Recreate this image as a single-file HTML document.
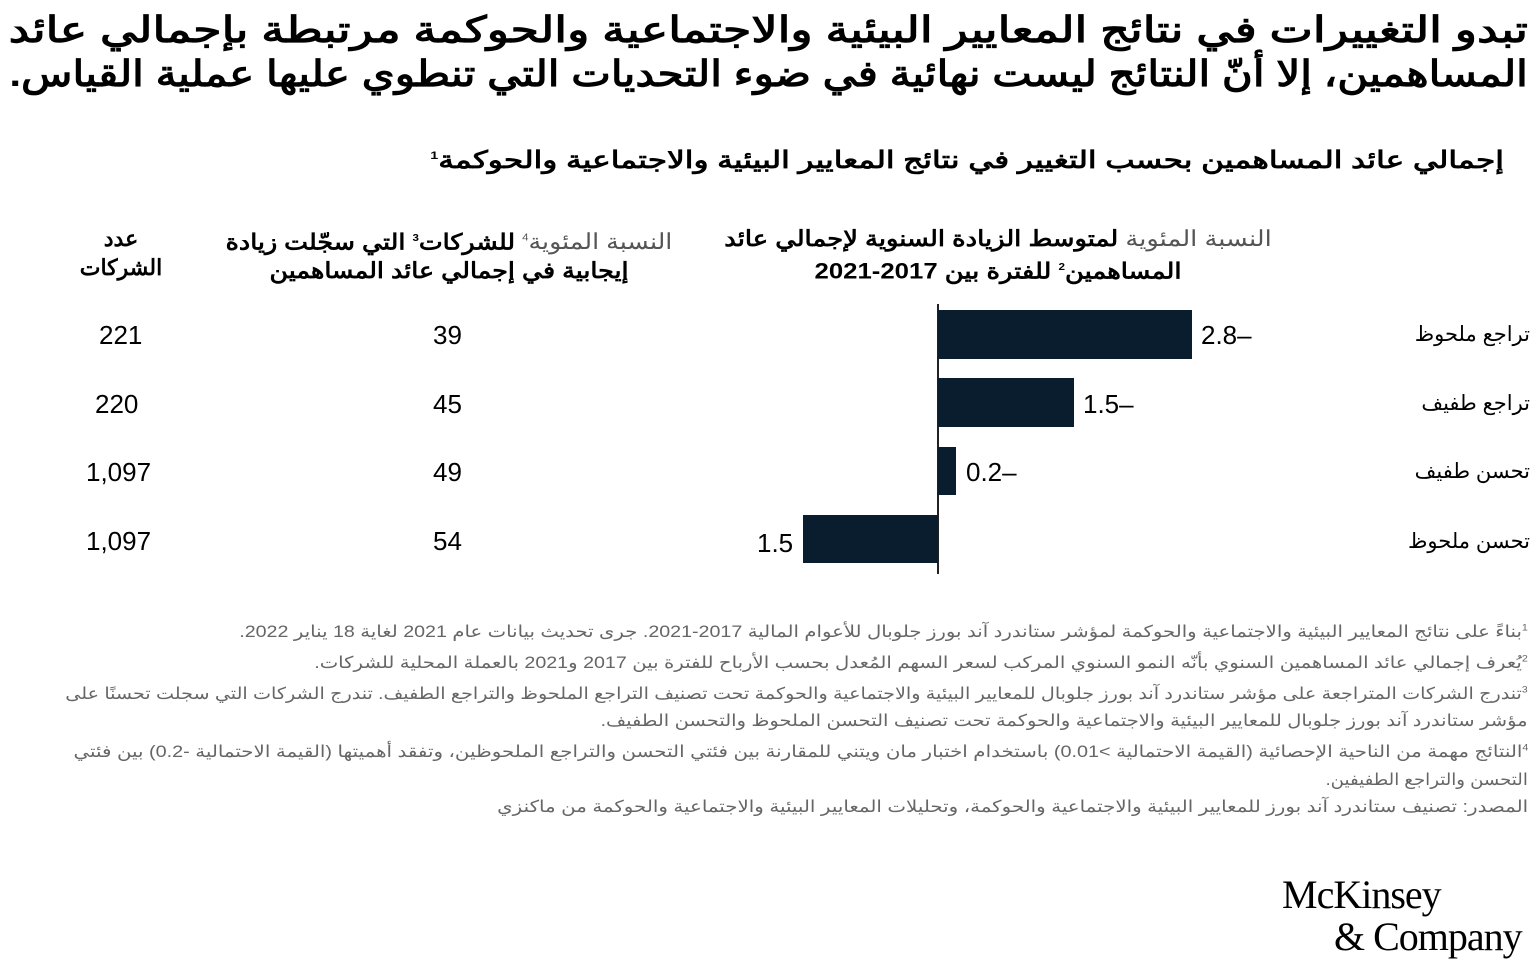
<!DOCTYPE html>
<html><head><meta charset="utf-8"><style>
body{margin:0;width:1536px;height:971px;background:#fff;position:relative;overflow:hidden;font-family:"Liberation Sans","Noto Sans CJK SC",sans-serif;color:#000}
.a{position:absolute;white-space:nowrap}
.r{direction:rtl}
.t{right:8px;font-weight:bold;font-size:36px;line-height:44px;transform-origin:right center}
.fn{right:8px;font-size:16.5px;color:#666;direction:rtl;transform-origin:right center}
.bar{position:absolute;background:#0a1d2e}
.num{font-size:26px;position:absolute}
.cat{font-size:21px;right:6px;direction:rtl}
.hd{font-size:22px;font-weight:bold;direction:rtl;text-align:center;line-height:29px}
.hd span{font-weight:normal;color:#555}
</style></head><body>
<div class="a r t" style="top:8px;transform:scaleX(1.28)">تبدو التغييرات في نتائج المعايير البيئية والاجتماعية والحوكمة مرتبطة بإجمالي عائد</div>
<div class="a r t" style="top:52px;transform:scaleX(1.17)">المساهمين، إلا أنّ النتائج ليست نهائية في ضوء التحديات التي تنطوي عليها عملية القياس.</div>
<div class="a r" style="right:32px;top:146px;font-size:24px;font-weight:bold;transform:scaleX(1.3);transform-origin:right center">إجمالي عائد المساهمين بحسب التغيير في نتائج المعايير البيئية والاجتماعية والحوكمة<sup style="font-size:11px">1</sup></div>

<div class="a hd" style="left:998px;top:224px;transform:translateX(-50%) scaleX(1.17)"><span>النسبة المئوية</span> لمتوسط الزيادة السنوية لإجمالي عائد<br>المساهمين<sup style="font-size:10px">2</sup> للفترة بين 2017-2021</div>
<div class="a hd" style="left:449px;top:224px;transform:translateX(-50%) scaleX(1.15)"><span>النسبة المئوية<sup style="font-size:10px">4</sup></span> للشركات<sup style="font-size:10px">3</sup> التي سجّلت زيادة<br>إيجابية في إجمالي عائد المساهمين</div>
<div class="a hd" style="left:121px;top:224px;transform:translateX(-50%)">عدد<br>الشركات</div>

<div class="a" style="left:937px;top:304px;width:2px;height:270px;background:#222"></div>
<div class="bar" style="left:938px;top:310px;width:254px;height:49px"></div>
<div class="bar" style="left:938px;top:378px;width:136px;height:49px"></div>
<div class="bar" style="left:938px;top:447px;width:18px;height:48px"></div>
<div class="bar" style="left:803px;top:515px;width:135px;height:48px"></div>
<div class="num" style="left:1201px;top:320px">2.8–</div>
<div class="num" style="left:1083px;top:389px">1.5–</div>
<div class="num" style="left:966px;top:457px">0.2–</div>
<div class="num" style="left:757px;top:528px">1.5</div>

<div class="a cat" style="top:322px">تراجع ملحوظ</div>
<div class="a cat" style="top:391px">تراجع طفيف</div>
<div class="a cat" style="top:459px">تحسن طفيف</div>
<div class="a cat" style="top:529px">تحسن ملحوظ</div>

<div class="num" style="left:433px;top:320px">39</div>
<div class="num" style="left:433px;top:389px">45</div>
<div class="num" style="left:433px;top:457px">49</div>
<div class="num" style="left:433px;top:526px">54</div>
<div class="num" style="left:99px;top:320px">221</div>
<div class="num" style="left:95px;top:389px">220</div>
<div class="num" style="left:86px;top:457px">1,097</div>
<div class="num" style="left:86px;top:526px">1,097</div>

<div class="a fn" style="top:622px;transform:scaleX(1.19)"><sup style="font-size:9px">1</sup>بناءً على نتائج المعايير البيئية والاجتماعية والحوكمة لمؤشر ستاندرد آند بورز جلوبال للأعوام المالية 2017-2021. جرى تحديث بيانات عام 2021 لغاية 18 يناير 2022.</div>
<div class="a fn" style="top:653px;transform:scaleX(1.19)"><sup style="font-size:9px">2</sup>يُعرف إجمالي عائد المساهمين السنوي بأنّه النمو السنوي المركب لسعر السهم المُعدل بحسب الأرباح للفترة بين 2017 و2021 بالعملة المحلية للشركات.</div>
<div class="a fn" style="top:684px;transform:scaleX(1.16)"><sup style="font-size:9px">3</sup>تندرج الشركات المتراجعة على مؤشر ستاندرد آند بورز جلوبال للمعايير البيئية والاجتماعية والحوكمة تحت تصنيف التراجع الملحوظ والتراجع الطفيف. تندرج الشركات التي سجلت تحسنًا على</div>
<div class="a fn" style="top:711px;transform:scaleX(1.18)">مؤشر ستاندرد آند بورز جلوبال للمعايير البيئية والاجتماعية والحوكمة تحت تصنيف التحسن الملحوظ والتحسن الطفيف.</div>
<div class="a fn" style="top:742px;transform:scaleX(1.2)"><sup style="font-size:9px">4</sup>النتائج مهمة من الناحية الإحصائية (القيمة الاحتمالية &gt;0.01) باستخدام اختبار مان ويتني للمقارنة بين فئتي التحسن والتراجع الملحوظين، وتفقد أهميتها (القيمة الاحتمالية -0.2) بين فئتي</div>
<div class="a fn" style="top:770px;transform:scaleX(1.1)">التحسن والتراجع الطفيفين.</div>
<div class="a fn" style="top:797px;transform:scaleX(1.2)">المصدر: تصنيف ستاندرد آند بورز للمعايير البيئية والاجتماعية والحوكمة، وتحليلات المعايير البيئية والاجتماعية والحوكمة من ماكنزي</div>

<div class="a" style="left:1282px;top:874px;font-family:'Liberation Serif',serif;font-size:40px;line-height:42px;letter-spacing:-1px">McKinsey<br><span style="margin-left:52px">&amp; Company</span></div>
</body></html>
